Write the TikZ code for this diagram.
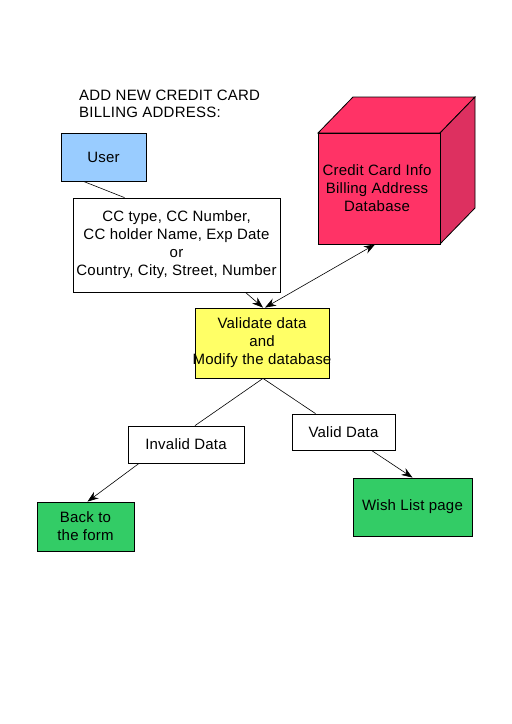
\documentclass[tikz,border=0pt]{standalone}
\usepackage{fontspec}
\setmainfont{Liberation Sans}[LetterSpace=1.5]
\usetikzlibrary{arrows.meta}
\definecolor{userblue}{HTML}{99CCFF}
\definecolor{dbred}{HTML}{FF3366}
\definecolor{dbside}{HTML}{DD3060}
\definecolor{valyellow}{HTML}{FFFF66}
\definecolor{okgreen}{HTML}{33CC66}
\newcommand{\diafont}{\fontsize{15}{18}\selectfont}
\begin{document}
\begin{tikzpicture}[x=1pt,y=-1pt,
  box/.style={draw=black,line width=0.8pt,inner sep=0pt,align=center,font=\diafont},
  boxtext/.style={align=center,inner sep=0pt,font=\diafont},
  conn/.style={line width=0.6pt},
  arr/.style={conn,-{Stealth[length=11pt,width=8pt]}},
  darr/.style={conn,{Stealth[length=11pt,width=8pt]}-{Stealth[length=11pt,width=8pt]}}]
\useasboundingbox (0,0) rectangle (512,724);
\node[anchor=north west,align=left,inner sep=0pt,font=\fontsize{15}{17}\selectfont] (title) at (79,90) {ADD NEW CREDIT CARD\\BILLING ADDRESS:};
\node[box,fill=userblue,minimum width=85pt,minimum height=48pt] (user) at (103.5,157) {User};
\node[box,fill=white,minimum width=207pt,minimum height=94pt] (cc) at (176.5,245) {CC type, CC Number,\\ CC holder Name, Exp Date\\or\\Country, City, Street, Number};
% cube
\fill[dbred,draw=black,line width=0.8pt] (318,133) -- (353,97) -- (475,97) -- (440,133) -- cycle;
\fill[dbside,draw=black,line width=0.8pt] (440,133) -- (475,97) -- (475,208) -- (440,244) -- cycle;
\node[box,fill=dbred,minimum width=122pt,minimum height=111pt] (db) at (379,188.5) {};
\node[boxtext] (dbtext) at (377,188.5) {Credit Card Info\\Billing Address\\Database};
\node[box,fill=valyellow,minimum width=134pt,minimum height=70pt] (val) at (262,343) {};
\node[boxtext] (valtext) at (262,343) {Validate data\\and\\Modify the database};
\node[box,fill=white,minimum width=116pt,minimum height=37pt] (inv) at (186,444.5) {Invalid Data};
\node[box,fill=white,minimum width=103pt,minimum height=36pt] (vd) at (343.5,432) {Valid Data};
\node[box,fill=okgreen,minimum width=97pt,minimum height=49pt] (back) at (85.5,526.5) {Back to\\the form};
\node[box,fill=okgreen,minimum width=119pt,minimum height=58pt] (wish) at (412.5,507) {Wish List page};
\draw[conn] ([xshift=-20pt]user.south) -- ([xshift=-52pt]cc.north);
\draw[arr] ([xshift=69pt]cc.south) -- ([xshift=1pt]val.north);
\draw[darr] ([xshift=3pt]val.north) -- ([xshift=-4pt]db.south);
\draw[conn] ([xshift=1pt]val.south) -- ([xshift=9pt]inv.north);
\draw[conn] ([xshift=1pt]val.south) -- ([xshift=-28pt]vd.north);
\draw[arr] ([xshift=-47pt]inv.south) -- ([xshift=2pt]back.north);
\draw[arr] ([xshift=28pt]vd.south) -- ([xshift=0pt]wish.north);
\end{tikzpicture}
\end{document}
